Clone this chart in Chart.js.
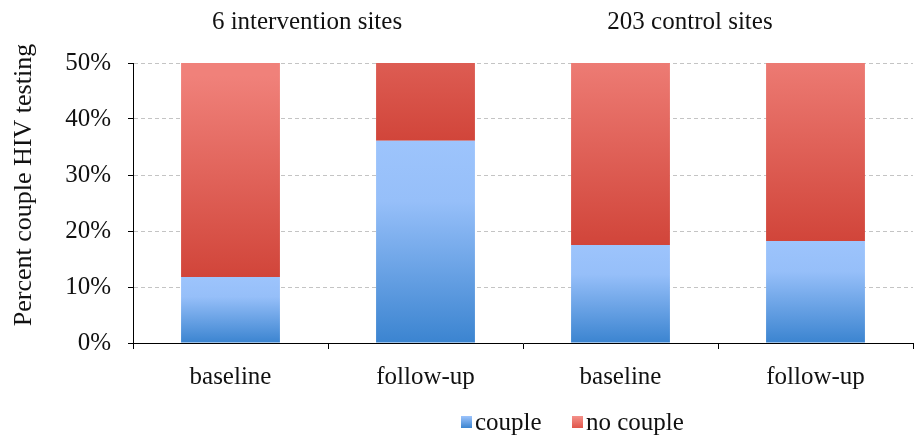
<!DOCTYPE html>
<html>
<head>
<meta charset="utf-8">
<script src="https://cdn.jsdelivr.net/npm/chart.js@4/dist/chart.umd.min.js"></script>
<style>
  html, body { margin: 0; padding: 0; background: #ffffff; }
  #wrap { width: 914px; height: 436px; position: relative; }
</style>
</head>
<body>
<div id="wrap"><canvas id="chart"></canvas></div>
<script>
// Couple HIV testing by site group and period (percent)
const categories = ['baseline', 'follow-up', 'baseline', 'follow-up'];
const coupleTesting = [11.8, 36.1, 17.5, 18.2];
const noCoupleTesting = [88.2, 63.9, 82.5, 81.8];
const groupTitles = ['6 intervention sites', '203 control sites'];
const seriesNames = ['couple', 'no couple'];
const yAxisTitle = 'Percent couple HIV testing';
const yTickValues = [0, 10, 20, 30, 40, 50];

const FONT = "'Liberation Serif', 'Times New Roman', serif";
const TEXT = '#111111';

// blue fill: pale at the top, deeper toward the axis
function blueFill(ctx) {
  const chart = ctx.chart;
  if (!chart.chartArea || ctx.dataIndex === undefined) return '#7fb0ec';
  const y = chart.scales.y;
  const top = y.getPixelForValue(coupleTesting[ctx.dataIndex]);
  const bot = y.getPixelForValue(0);
  const g = chart.ctx.createLinearGradient(0, top, 0, bot);
  g.addColorStop(0, '#9dc4fc');
  g.addColorStop(0.3, '#96bff9');
  g.addColorStop(1, '#3b84d0');
  return g;
}

// red fill: deep at its base, paling upward
function redFill(ctx) {
  const chart = ctx.chart;
  if (!chart.chartArea || ctx.dataIndex === undefined) return '#e0645a';
  const y = chart.scales.y;
  const base = coupleTesting[ctx.dataIndex];
  const g = chart.ctx.createLinearGradient(0, y.getPixelForValue(base), 0, y.getPixelForValue(base + 36));
  g.addColorStop(0, '#d1453a');
  g.addColorStop(1, '#f0817a');
  return g;
}

const overlay = {
  id: 'overlay',
  afterDraw(chart) {
    const c = chart.ctx;
    c.save();
    c.fillStyle = TEXT;
    c.font = '25px ' + FONT;
    c.textAlign = 'center';
    c.textBaseline = 'middle';
    c.fillText(groupTitles[0], 307, 22);
    c.fillText(groupTitles[1], 690, 22);

    // vertical axis title
    c.save();
    c.translate(24, 185);
    c.rotate(-Math.PI / 2);
    c.font = '26px ' + FONT;
    c.fillText(yAxisTitle, 0, 0);
    c.restore();

    // legend
    const items = [
      { x: 461, top: '#9dc4fc', bot: '#3b84d0' },
      { x: 572, top: '#f4918a', bot: '#e0554a' }
    ];
    c.textAlign = 'left';
    items.forEach((it, i) => {
      const g = c.createLinearGradient(0, 416, 0, 428);
      g.addColorStop(0, it.top);
      g.addColorStop(1, it.bot);
      c.fillStyle = g;
      c.fillRect(it.x, 416, 11, 12);
      c.fillStyle = TEXT;
      c.fillText(seriesNames[i], it.x + 14, 423);
    });
    c.restore();
  }
};

new Chart(document.getElementById('chart'), {
  type: 'bar',
  data: {
    labels: categories,
    datasets: [
      { label: seriesNames[0], data: coupleTesting, backgroundColor: blueFill, borderWidth: 0 },
      { label: seriesNames[1], data: noCoupleTesting, backgroundColor: redFill, borderWidth: 0 }
    ]
  },
  options: {
    responsive: true,
    maintainAspectRatio: false,
    animation: false,
    events: [],
    layout: { padding: { top: 63, right: 1, bottom: 33, left: 0 } },
    datasets: { bar: { barPercentage: 1, categoryPercentage: 0.507 } },
    plugins: { legend: { display: false }, tooltip: { enabled: false } },
    scales: {
      x: {
        stacked: true,
        offset: true,
        grid: { offset: true, drawOnChartArea: false, drawTicks: true, tickLength: 6, tickColor: '#000', color: '#000' },
        border: { display: true, color: '#000', width: 1 },
        ticks: { color: TEXT, font: { family: FONT, size: 25 }, padding: 13 },
        afterFit(s) { s.height = 60; }
      },
      y: {
        stacked: true,
        min: 0,
        max: 50,
        afterBuildTicks(s) { s.ticks = yTickValues.map(v => ({ value: v })); },
        grid: { color: '#c4c4c4', lineWidth: 1, drawTicks: true, tickLength: 5, tickColor: '#000' },
        border: { display: true, color: '#000', width: 1, dash: [4, 3] },
        ticks: { color: TEXT, font: { family: FONT, size: 25 }, padding: 17, callback: v => v + '%' },
        title: { display: false },
        afterFit(s) { s.width = 133; }
      }
    }
  },
  plugins: [overlay]
});
</script>
</body>
</html>
